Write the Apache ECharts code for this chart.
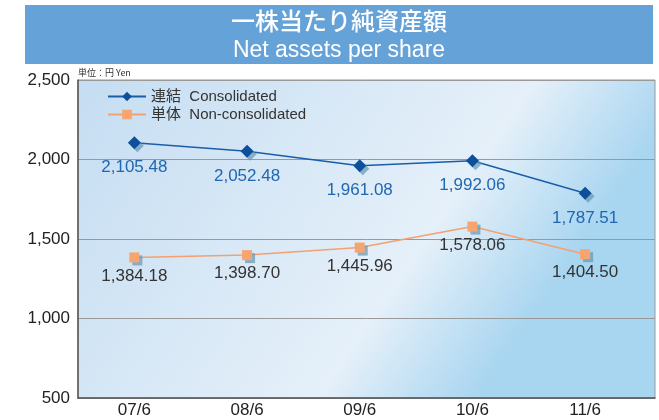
<!DOCTYPE html>
<html>
<head>
<meta charset="utf-8">
<script src="https://cdn.jsdelivr.net/npm/echarts@6/dist/echarts.min.js"></script>
<style>
  html, body { margin: 0; padding: 0; background: #fff; }
  #chart { width: 659px; height: 420px; }
</style>
</head>
<body>
<div id="chart"></div>
<script>
// 決算期
const periods = ['07/6', '08/6', '09/6', '10/6', '11/6']
// 一株当たり純資産額（円）
const consolidated = [2105.48, 2052.48, 1961.08, 1992.06, 1787.51]
const nonConsolidated = [1384.18, 1398.70, 1445.96, 1578.06, 1404.50]
const yTicks = [500, 1000, 1500, 2000, 2500]

const FONT = '"Liberation Sans", "Noto Sans CJK JP", sans-serif'
const fmt = (v, d) => v.toLocaleString('en-US', { minimumFractionDigits: d, maximumFractionDigits: d })
const toPoints = arr => arr.map((v, i) => [i, v])

const markerShadow = { shadowColor: 'rgba(100,150,180,0.7)', shadowOffsetX: 3, shadowOffsetY: 3, shadowBlur: 0 }

const chart = echarts.init(document.getElementById('chart'))
chart.setOption({
  animation: false,
  textStyle: { fontFamily: FONT },
  graphic: [
    { type: 'rect', left: 25, top: 5, shape: { width: 628, height: 59 }, style: { fill: '#64a2d8' } },
    { type: 'text', x: 339, y: 21, style: { text: '一株当たり純資産額', fill: '#fff', font: '500 24px "Noto Sans CJK JP", sans-serif', align: 'center', verticalAlign: 'middle' } },
    { type: 'text', x: 339, y: 51, style: { text: 'Net assets per share', fill: '#fff', font: '23px "Liberation Sans", sans-serif', align: 'center', verticalAlign: 'middle' } },
    { type: 'text', x: 78, y: 73, style: { text: '単位：円 Yen', fill: '#333', font: '9px "Noto Sans CJK JP", sans-serif', verticalAlign: 'middle' } }
  ],
  grid: {
    left: 78, right: 4, top: 80, bottom: 22,
    show: true,
    borderColor: '#999', borderWidth: 1,
    backgroundColor: new echarts.graphic.LinearGradient(0, 0, 1, 1.24, [
      { offset: 0, color: '#c5ddf2' },
      { offset: 0.54, color: '#e5f0f9' },
      { offset: 0.73, color: '#a8d5f0' },
      { offset: 1, color: '#a8d5f0' }
    ])
  },
  legend: {
    orient: 'vertical', left: 107, top: 89, itemGap: 3, padding: 0,
    itemWidth: 38, itemHeight: 12,
    textStyle: { fontSize: 15, color: '#333', fontFamily: FONT },
    data: ['連結  Consolidated', '単体  Non-consolidated']
  },
  xAxis: {
    type: 'value', min: -0.5, max: 4.62,
    splitLine: { show: false },
    axisLine: { onZero: false, lineStyle: { color: '#555', width: 1.5 } },
    axisTick: { show: false },
    axisLabel: {
      customValues: periods.map((p, i) => i),
      formatter: v => periods[Math.round(v)] || '',
      fontSize: 17, color: '#222', margin: 4
    }
  },
  yAxis: {
    type: 'value', min: 500, max: 2500, interval: 500,
    axisLine: { show: true, onZero: false, lineStyle: { color: '#555', width: 1.5 } },
    axisTick: { show: false },
    splitLine: { lineStyle: { color: '#999', width: 1 } },
    axisLabel: {
      customValues: yTicks,
      formatter: v => fmt(v, 0),
      fontSize: 17, color: '#222', margin: 8
    }
  },
  series: [
    {
      name: '連結  Consolidated',
      type: 'line',
      data: toPoints(consolidated),
      symbol: 'diamond', symbolSize: 13,
      lineStyle: { color: '#1a5ea8', width: 1.5 },
      itemStyle: Object.assign({ color: '#0d4f9a' }, markerShadow),
      label: {
        show: true, position: 'bottom', distance: 10,
        formatter: p => fmt(p.value[1], 2),
        fontSize: 17, color: '#2067b2'
      },
      z: 3
    },
    {
      name: '単体  Non-consolidated',
      type: 'line',
      data: toPoints(nonConsolidated),
      symbol: 'rect', symbolSize: 10,
      lineStyle: { color: '#f4a070', width: 1.5 },
      itemStyle: Object.assign({ color: '#f7a46e' }, markerShadow),
      label: {
        show: true, position: 'bottom', distance: 5,
        formatter: p => fmt(p.value[1], 2),
        fontSize: 17, color: '#333'
      },
      z: 2
    }
  ]
})
</script>
</body>
</html>
